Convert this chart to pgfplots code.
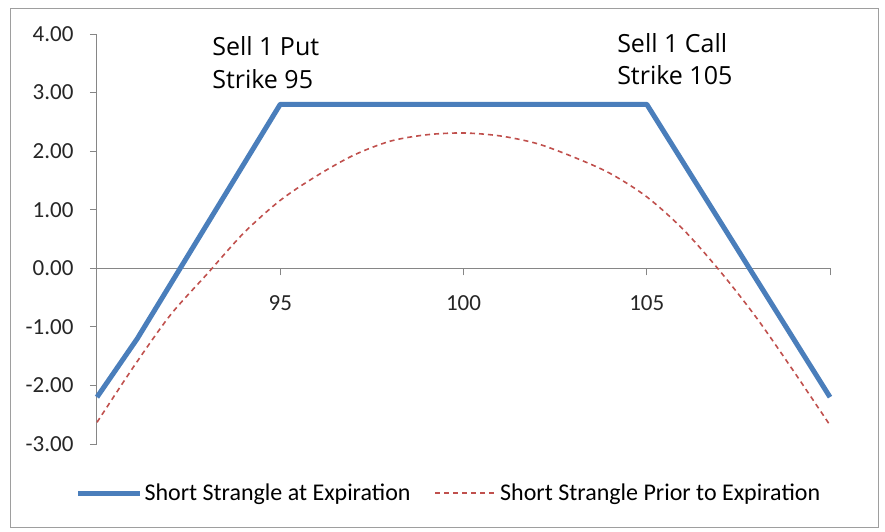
\documentclass[border=0pt]{standalone}
\usepackage{pgfplots}
\pgfplotsset{compat=1.18}
\usepackage{fontspec}
\setmainfont{Carlito}
\newfontfamily\notefont{Open Sans}
\definecolor{strangleblue}{HTML}{4A7EBB}
\definecolor{stranglered}{HTML}{C0504D}
\definecolor{axisgray}{HTML}{868686}

\begin{document}
\begin{tikzpicture}
\useasboundingbox (0,0) rectangle (885pt,531pt);
\draw[axisgray!80, line width=1pt] (10.5pt,3.5pt) rectangle (878pt,522pt);
\begin{axis}[
  at={(97pt,87pt)}, anchor=south west,
  width=733pt, height=410pt, scale only axis,
  xmin=90, xmax=110, ymin=-3, ymax=4,
  axis x line*=middle, axis y line*=left,
  x axis line style={-}, y axis line style={-},
  axis line style={axisgray, line width=1pt},
  xtick={90,95,100,105,110}, xticklabels={,95,100,105,},
  ytick={-3,-2,...,4},
  yticklabel={\pgfmathprintnumber[fixed,fixed zerofill,precision=2]{\tick}},
  /pgf/number format/assume math mode=true,
  tick align=outside, major tick length=7pt,
  tick style={axisgray, line width=1pt},
  ticklabel style={font=\fontsize{23}{25}\selectfont, text=black!85},
  yticklabel style={xshift=-13pt},
  xticklabel style={yshift=-17pt},
  clip=false,
  legend style={at={(0.48,-0.12)}, anchor=center, draw=none,
    legend columns=2, font=\fontsize{24}{26}\selectfont,
    /tikz/every even column/.append style={column sep=22pt}},
  legend image code/.code={\draw[#1] (0pt,0pt) -- (62pt,0pt);},
]
% payoff at expiration
\addplot[strangleblue, line width=5pt, line join=round] coordinates {
  (90,-2.2) (91.1,-1.2) (95,2.8) (105,2.8) (108,-0.2) (110,-2.2)
};
\addlegendentry{Short Strangle at Expiration}
% value before expiration
\addplot[stranglered, line width=1.6pt, dash pattern=on 5pt off 4pt, smooth] coordinates {
  (90,-2.63) (91,-1.68) (92,-0.80) (93,-0.10) (94,0.60) (95,1.16)
  (96,1.58) (97,1.93) (98,2.17) (99,2.28) (100,2.31) (101,2.26)
  (102,2.13) (103,1.90) (104,1.62) (105,1.22) (106,0.66) (107,-0.05)
  (108,-0.85) (109,-1.75) (110,-2.68)
};
\addlegendentry{Short Strangle Prior to Expiration}
\node[anchor=base west, inner sep=0pt, font=\notefont\fontsize{25}{27}\selectfont] at (axis cs:93.14,3.64) {Sell 1 Put};
\node[anchor=base west, inner sep=0pt, font=\notefont\fontsize{25}{27}\selectfont] at (axis cs:93.14,3.07) {Strike 95};
\node[anchor=base west, inner sep=0pt, font=\notefont\fontsize{25}{27}\selectfont] at (axis cs:104.19,3.69) {Sell 1 Call};
\node[anchor=base west, inner sep=0pt, font=\notefont\fontsize{25}{27}\selectfont] at (axis cs:104.19,3.13) {Strike 105};
\end{axis}
\end{tikzpicture}
\end{document}
